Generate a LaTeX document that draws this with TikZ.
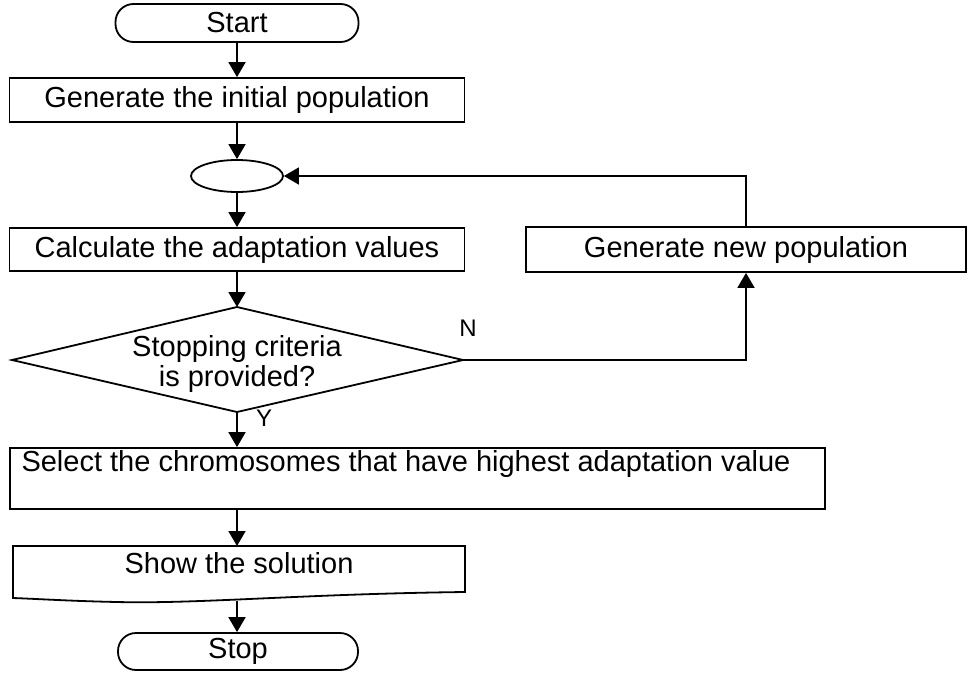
\documentclass[tikz,border=0pt]{standalone}
\usepackage{fontspec}
\setmainfont{Liberation Sans}
\usetikzlibrary{arrows.meta,shapes.geometric}
\begin{document}
\begin{tikzpicture}[x=1pt,y=-1pt,
  line width=1.8pt,
  every node/.style={font=\fontsize{29}{32}\selectfont, inner sep=0pt},
  box/.style={draw, rectangle},
  term/.style={draw, rectangle, rounded corners=18pt},
  lbl/.style={font=\fontsize{24}{28}\selectfont},
  arr/.style={-{Triangle[length=15pt,width=17pt]}}]
\useasboundingbox (0,0) rectangle (973,672);
% main column
\node[term, minimum width=243pt, minimum height=38pt] (start) at (237,23) {Start};
\node[box, minimum width=455pt, minimum height=44pt] (gen) at (237,100) {Generate the initial population};
\node[draw, ellipse, minimum width=92pt, minimum height=32pt] (merge) at (237,176) {};
\node[box, minimum width=455pt, minimum height=43pt] (calc) at (237,249.5) {Calculate the adaptation values};
% decision
\coordinate (dT) at (237,307);
\coordinate (dB) at (237,412);
\coordinate (dL) at (12,360);
\coordinate (dR) at (463,360);
\draw (dL) -- (dT) -- (dR) -- (dB) -- cycle;
\node[align=center, font=\fontsize{29}{30}\selectfont] (dec) at (237,364) {Stopping criteria\\is provided?};
\node[lbl] (nlab) at (468,328) {N};
\node[lbl] (ylab) at (264,418) {Y};
% right branch
\node[box, minimum width=440pt, minimum height=45pt] (newpop) at (746,249.5) {Generate new population};
% lower part
\node[box, minimum width=815pt, minimum height=61pt] (sel) at (417.5,478.5) {};
\node[anchor=center] (seltext) at (406,464) {Select the chromosomes that have highest adaptation value};
\coordinate (showT) at (237,546);
\coordinate (showB) at (237,600.5);
\draw (13,546) -- (465,546) -- (465,592) .. controls (300,594) and (200,604) .. (117,602) .. controls (70,601) and (40,599) .. (13,598) -- cycle;
\node (show) at (239,563) {Show the solution};
\node[term, minimum width=240pt, minimum height=37pt] (stop) at (238,651.5) {Stop};
% connectors
\draw[arr] (start) -- (gen);
\draw[arr] (gen) -- (merge);
\draw[arr] (merge) -- (calc);
\draw[arr] (calc) -- (dT);
\draw[arr] (dR) -| (newpop.south);
\draw[arr] (newpop.north) |- (merge.east);
\draw[arr] (dB) -- (dB |- sel.north);
\draw[arr] (dB |- sel.south) -- (showT);
\draw[arr] (showB) -- (showB |- stop.north);
\end{tikzpicture}
\end{document}
